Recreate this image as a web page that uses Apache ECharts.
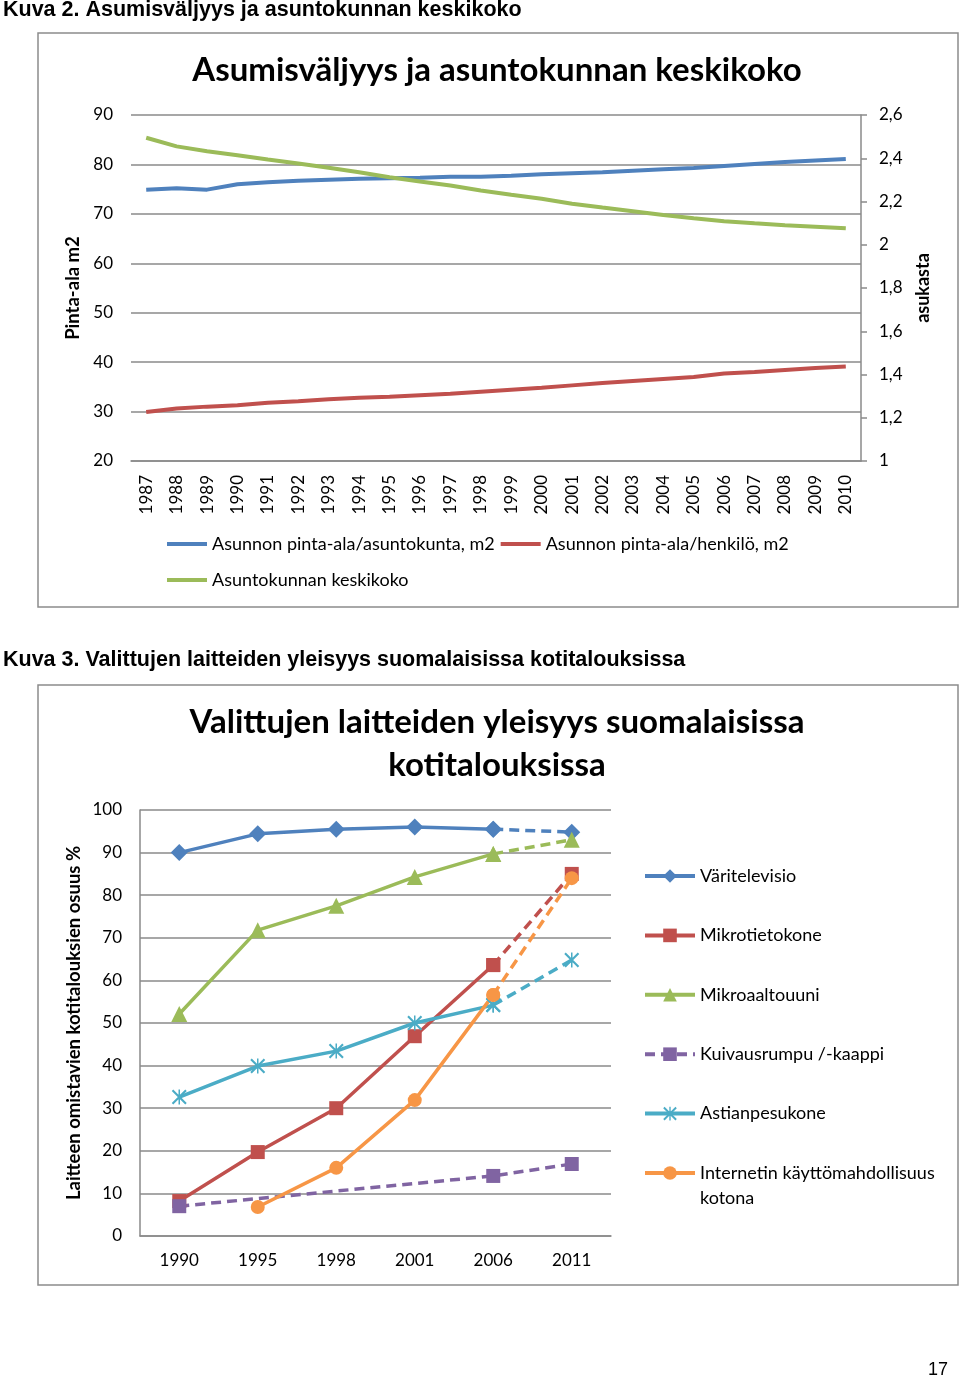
<!DOCTYPE html>
<html><head><meta charset="utf-8">
<script src="https://cdn.jsdelivr.net/npm/echarts@6/dist/echarts.min.js"></script>
<style>html,body{margin:0;padding:0;background:#fff}#c{width:960px;height:1380px}</style>
</head><body><div id="c"></div>
<script>
// ---- Chart 1 data ----
const years = ['1987','1988','1989','1990','1991','1992','1993','1994','1995','1996','1997','1998','1999','2000','2001','2002','2003','2004','2005','2006','2007','2008','2009','2010'];
const areaPerHousehold = [74.9,75.2,74.9,76.0,76.4,76.7,76.9,77.1,77.2,77.3,77.5,77.5,77.7,78.0,78.2,78.4,78.7,79.0,79.3,79.7,80.1,80.5,80.8,81.1];
const areaPerPerson = [29.9,30.6,31.0,31.3,31.8,32.1,32.5,32.8,33.0,33.3,33.6,34.0,34.4,34.8,35.3,35.8,36.2,36.6,37.0,37.7,38.0,38.4,38.8,39.1];
const householdSize = [2.495,2.455,2.432,2.414,2.394,2.376,2.356,2.335,2.312,2.292,2.274,2.251,2.231,2.213,2.19,2.172,2.155,2.138,2.123,2.109,2.099,2.09,2.083,2.076];
const seriesNames1 = ['Asunnon pinta-ala/asuntokunta, m2','Asunnon pinta-ala/henkilö, m2','Asuntokunnan keskikoko'];

// ---- Chart 2 data ----
const surveyYears = ['1990','1995','1998','2001','2006','2011'];
const colourTv = [90, 94.4, 95.5, 96.0, 95.5, 94.8];
const computer = [8.2, 19.7, 30.0, 46.9, 63.6, 85.0];
const microwave = [52.1, 71.8, 77.5, 84.3, 89.7, 93.0];
const dryer = [7.0, null, null, null, 14.1, 16.9];
const dishwasher = [32.6, 39.9, 43.4, 50.0, 54.2, 64.8];
const internet = [null, 6.8, 16.0, 31.9, 56.6, 84.0];
const seriesNames2 = ['Väritelevisio','Mikrotietokone','Mikroaaltouuni','Kuivausrumpu /-kaappi','Astianpesukone','Internetin käyttömahdollisuus kotona'];

const FONT = 'Lato';
const GRID = '#8a8a8a';
const C = {blue:'#4F81BD', red:'#C0504D', green:'#9BBB59', purple:'#8064A2', aqua:'#4BACC6', orange:'#F79646'};
const asterisk = 'path://M9,0 L11,0 L11,20 L9,20 Z M0,2 L2,0 L20,18 L18,20 Z M18,0 L20,2 L2,20 L0,18 Z';

function solidPart(arr){ return arr.map((v,i)=> i<=4 ? v : null); }
function dashPart(arr){ return arr.map((v,i)=> i>=4 ? v : null); }

const chart = echarts.init(document.getElementById('c'), null, {renderer:'canvas'});

function series2(name, data, color, symbol, size){
  return [
    {name:name, type:'line', xAxisIndex:1, yAxisIndex:2, data:solidPart(data), symbol:symbol, symbolSize:size,
     showSymbol:true, connectNulls:false, lineStyle:{color:color,width:3.5}, itemStyle:{color:color}, z:3},
    {name:name+' (ennuste)', type:'line', xAxisIndex:1, yAxisIndex:2, data:dashPart(data), symbol:symbol, symbolSize:size,
     showSymbol:true, lineStyle:{color:color,width:3.5,type:[10,6]}, itemStyle:{color:color}, z:3}
  ];
}

const option = {
  backgroundColor:'#fff',
  animation:false,
  textStyle:{fontFamily:FONT},
  graphic:[
    {type:'text', left:3, top:-1, style:{text:'Kuva 2. Asumisväljyys ja asuntokunnan keskikoko', font:'bold 21.5px "Liberation Sans"', fill:'#000'}},
    {type:'text', left:3, top:649, style:{text:'Kuva 3. Valittujen laitteiden yleisyys suomalaisissa kotitalouksissa', font:'bold 21.5px "Liberation Sans"', fill:'#000'}},
    {type:'rect', shape:{x:38,y:33,width:920,height:574}, style:{fill:'none', stroke:'#8c8c8c', lineWidth:1.5}, z:-1},
    {type:'rect', shape:{x:38,y:685,width:920,height:600}, style:{fill:'none', stroke:'#8c8c8c', lineWidth:1.5}, z:-1},
    {type:'text', style:{x:497, y:70, text:'Asumisväljyys ja asuntokunnan keskikoko', font:'bold 33px Lato', fill:'#000', align:'center', verticalAlign:'middle'}},
    {type:'text', style:{x:497, y:722, text:'Valittujen laitteiden yleisyys suomalaisissa', font:'bold 33px Lato', fill:'#000', align:'center', verticalAlign:'middle'}},
    {type:'text', style:{x:497, y:765, text:'kotitalouksissa', font:'bold 33px Lato', fill:'#000', align:'center', verticalAlign:'middle'}},
    {type:'text', style:{x:700, y:1198, text:'kotona', font:'18px Lato', fill:'#000', align:'left', verticalAlign:'middle'}},
    {type:'text', style:{x:948, y:1370, text:'17', font:'18px "Liberation Sans"', fill:'#000', align:'right', verticalAlign:'middle'}}
  ],
  legend:[
    {data:[seriesNames1[0], seriesNames1[1]], left:162, top:530, icon:'rect', itemWidth:40, itemHeight:4, itemGap:6,
     textStyle:{fontFamily:FONT, fontSize:18, color:'#000'}},
    {data:[seriesNames1[2]], left:162, top:566, icon:'rect', itemWidth:40, itemHeight:4,
     textStyle:{fontFamily:FONT, fontSize:18, color:'#000'}},
    {data:seriesNames2, orient:'vertical', left:638, top:862, itemWidth:50, itemHeight:17, itemGap:41.4,
     lineStyle:{width:4},
     formatter: n => n==='Internetin käyttömahdollisuus kotona' ? 'Internetin käyttömahdollisuus' : n,
     textStyle:{fontFamily:FONT, fontSize:18, color:'#000'}}
  ],
  grid:[
    {left:131, top:115, width:730, height:346},
    {left:140, top:810, width:471, height:426}
  ],
  xAxis:[
    {type:'category', gridIndex:0, data:years, boundaryGap:true,
     axisLine:{show:true, lineStyle:{color:GRID, width:1.5}}, axisTick:{show:false},
     axisLabel:{rotate:90, margin:14, fontFamily:FONT, fontSize:17, color:'#000', interval:0}},
    {type:'category', gridIndex:1, data:surveyYears, boundaryGap:true,
     axisLine:{show:true, lineStyle:{color:GRID, width:1.5}}, axisTick:{show:false},
     axisLabel:{margin:16, fontFamily:FONT, fontSize:17, color:'#000'}}
  ],
  yAxis:[
    {type:'value', gridIndex:0, min:20, max:90, interval:10, position:'left',
     name:'Pinta-ala m2', nameLocation:'middle', nameRotate:90, nameGap:47,
     nameTextStyle:{fontFamily:FONT, fontWeight:'bold', fontSize:18.5, color:'#000'},
     axisLine:{show:false}, axisTick:{show:false},
     splitLine:{show:true, lineStyle:{color:GRID, width:1.5}},
     axisLabel:{margin:18, fontFamily:FONT, fontSize:17, color:'#000'}},
    {type:'value', gridIndex:0, min:1, max:2.6, interval:0.2, position:'right',
     name:'asukasta', nameLocation:'middle', nameRotate:90, nameGap:53,
     nameTextStyle:{fontFamily:FONT, fontWeight:'bold', fontSize:18, color:'#000'},
     axisLine:{show:true, lineStyle:{color:GRID, width:1.5}}, axisTick:{show:true, length:6, lineStyle:{color:GRID, width:1.5}},
     splitLine:{show:false},
     axisLabel:{margin:18, fontFamily:FONT, fontSize:17, color:'#000',
       formatter: v => (Math.round(v*10)/10).toString().replace('.', ',')}},
    {type:'value', gridIndex:1, min:0, max:100, interval:10,
     name:'Laitteen omistavien kotitalouksien osuus %', nameLocation:'middle', nameRotate:90, nameGap:56,
     nameTextStyle:{fontFamily:FONT, fontWeight:'bold', fontSize:18.5, color:'#000'},
     axisLine:{show:true, lineStyle:{color:GRID, width:1.5}}, axisTick:{show:false},
     splitLine:{show:true, lineStyle:{color:GRID, width:1.5}},
     axisLabel:{margin:18, fontFamily:FONT, fontSize:17, color:'#000'}}
  ],
  series:[
    {name:seriesNames1[0], type:'line', xAxisIndex:0, yAxisIndex:0, data:areaPerHousehold, showSymbol:false, symbol:'none',
     lineStyle:{color:C.blue, width:4}, itemStyle:{color:C.blue}},
    {name:seriesNames1[1], type:'line', xAxisIndex:0, yAxisIndex:0, data:areaPerPerson, showSymbol:false, symbol:'none',
     lineStyle:{color:C.red, width:4}, itemStyle:{color:C.red}},
    {name:seriesNames1[2], type:'line', xAxisIndex:0, yAxisIndex:1, data:householdSize, showSymbol:false, symbol:'none',
     lineStyle:{color:C.green, width:4}, itemStyle:{color:C.green}},
    ...series2(seriesNames2[0], colourTv, C.blue, 'diamond', 17),
    ...series2(seriesNames2[1], computer, C.red, 'rect', 14),
    ...series2(seriesNames2[2], microwave, C.green, 'triangle', 16),
    {name:seriesNames2[3], type:'line', xAxisIndex:1, yAxisIndex:2, data:dryer, symbol:'rect', symbolSize:14, showSymbol:true,
     connectNulls:true, lineStyle:{color:C.purple, width:3.5, type:[10,6]}, itemStyle:{color:C.purple}, z:3},
    ...series2(seriesNames2[4], dishwasher, C.aqua, asterisk, 15),
    ...series2(seriesNames2[5], internet, C.orange, 'circle', 14)
  ]
};
chart.setOption(option);
</script>
</body></html>
